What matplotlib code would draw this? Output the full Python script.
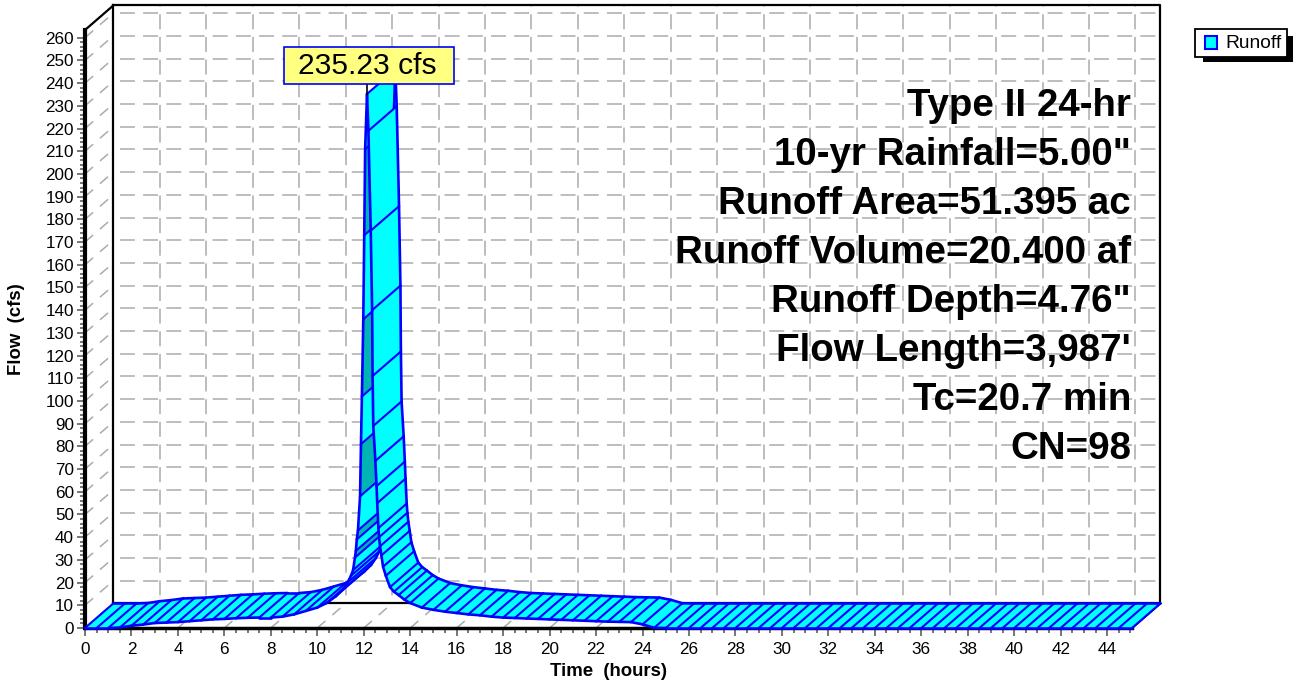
#!/usr/bin/env python

import matplotlib

matplotlib.use('agg')

import matplotlib.pyplot as plt
from matplotlib.patches import Rectangle

plt.rcParams['font.family'] = ['Liberation Sans', 'DejaVu Sans']

W, H = 1294, 684

# one point per cross line on the ribbon
time_hr = [0, 0.5, 1, 1.5, 2, 2.5, 3, 3.5, 4, 4.5, 5, 5.5, 6, 6.5, 7, 7.5, 8, 8.5, 9, 9.5,
           10, 10.4, 10.8, 11.1, 11.3, 11.45, 11.54, 11.62, 11.66, 11.7, 11.75, 11.84,
           11.88, 11.92, 11.98, 12.02, 12.06, 12.14,
           12.2, 12.3, 12.36, 12.38, 12.41, 12.5, 12.55, 12.58, 12.63, 12.66, 12.7, 12.76,
           12.83, 12.95, 13.13, 13.3, 13.5, 13.75, 14, 14.5, 15, 15.5, 16, 16.5, 17, 17.5,
           18, 18.5, 19, 19.5, 20, 20.5, 21, 21.5, 22, 22.5, 23, 23.5, 24, 24.5, 25, 25.5,
           26, 26.5, 27, 27.5, 28, 28.5, 29, 29.5, 30, 30.5, 31, 31.5, 32, 32.5, 33, 33.5,
           34, 34.5, 35, 35.5, 36, 36.5, 37, 37.5, 38, 38.5, 39, 39.5, 40, 40.5, 41, 41.5,
           42, 42.5, 43, 43.5, 44, 44.5, 45.07]
flow_cfs = [0, 0, 0, 0.2, 1, 1.5, 2.2, 2.4, 2.6, 3, 3.4, 3.8, 4, 4.3, 4.5, 4.6, 4.6, 5, 6, 7.5,
            9, 11, 14, 17, 20, 23, 25.5, 31, 34, 39, 43, 58,
            81, 102, 136, 173, 211, 235.23,
            219, 175, 140, 111, 89, 73.6, 62.5, 55, 44, 40, 36, 32,
            27, 23, 18, 16, 14.5, 12.5, 11, 9, 8, 7.2, 6.6, 6, 5.6, 5,
            4.6, 4.4, 4.2, 4, 3.8, 3.6, 3.4, 3.2, 3, 2.8, 2.7, 2.6, 1.6, 0.1, 0, 0,
            0, 0, 0, 0, 0, 0, 0, 0, 0, 0, 0, 0, 0, 0, 0, 0,
            0, 0, 0, 0, 0, 0, 0, 0, 0, 0, 0, 0, 0, 0, 0, 0,
            0, 0, 0, 0, 0, 0, 0]

peak_label = '235.23 cfs'
notes = ['Type II 24-hr', '10-yr Rainfall=5.00"', 'Runoff Area=51.395 ac',
         'Runoff Volume=20.400 af', 'Runoff Depth=4.76"', "Flow Length=3,987'",
         'Tc=20.7 min', 'CN=98']

x_max = 45.07
y_max = 263.4
dx = 1.218   # depth of the fake 3d, in hours
dy = 10.8    # same, in cfs

CYAN = '#00FFFF'
TEAL = '#00B4B4'
BLUE = '#0000FF'
GRID = '#ABABAB'


def fig_xy(x, y):
    return x / W, 1 - y / H


def fig_rect(fig, x0, y0, x1, y1, **kw):
    fx, fy = fig_xy(x0, y1)
    fig.add_artist(Rectangle((fx, fy), (x1 - x0) / W, (y1 - y0) / H,
                             transform=fig.transFigure, **kw))


def draw_walls(ax):
    grid = dict(color=GRID, lw=1.1, clip_on=False, zorder=1)
    # dash lengths are in line widths, 1.53 px here
    h_dash = (10.65, (9.8, 5.38))
    v_dash = (9.8, (9.8, 5.02))
    for f in range(0, 270, 10):
        ax.plot([dx, x_max + dx], [f + dy, f + dy], ls=h_dash, **grid)
        ax.plot([0, dx], [f, f + dy], ls=(0, (7, 6)), **grid)
    for t in range(0, 46, 2):
        ax.plot([t + dx, t + dx], [dy, y_max + dy], ls=v_dash, **grid)
        ax.plot([t, t + dx], [0, dy], ls=(0, (7, 6)), **grid)

    box = dict(color='black', lw=1.6, clip_on=False, zorder=2)
    ax.plot([0, dx], [y_max, y_max + dy], **box)
    ax.plot([dx, x_max + dx, x_max + dx], [y_max + dy, y_max + dy, dy], **box)
    ax.plot([dx, dx], [dy, y_max + dy], **box)
    ax.plot([dx, x_max + dx], [dy, dy], **box)
    ax.plot([x_max, x_max + dx], [0, dy], **box)


def draw_ribbon(ax):
    peak = flow_cfs.index(max(flow_cfs))
    start = time_hr.index(11.54)
    z = 3
    ax.plot([0, dx], [0, dy], color=BLUE, lw=1.5, clip_on=False, zorder=4.5)
    for i in range(len(time_hr) - 1):
        t0, t1 = time_hr[i], time_hr[i + 1]
        f0, f1 = flow_cfs[i], flow_cfs[i + 1]
        colour = CYAN
        if start <= i < peak and (peak - i) % 2 == 0:
            colour = TEAL
        ax.fill([t0, t1, t1 + dx, t0 + dx], [f0, f1, f1 + dy, f0 + dy],
                facecolor=colour, edgecolor=colour, lw=0.3, clip_on=False, zorder=z)
        # lines sit above the next quad, or it would cover half of them
        line = dict(color=BLUE, clip_on=False, zorder=z + 1.5, solid_capstyle='round')
        ax.plot([t0, t1], [f0, f1], lw=1.9, **line)
        ax.plot([t0 + dx, t1 + dx], [f0 + dy, f1 + dy], lw=1.9, **line)
        ax.plot([t1, t1 + dx], [f1, f1 + dy], lw=1.5, **line)
        z += 1
    return z


def main():
    fig = plt.figure(figsize=(W / 100, H / 100), dpi=100)
    ax = fig.add_axes([85 / W, (H - 628) / H, (1132 - 85) / W, (628 - 30) / H])
    ax.set_xlim(0, x_max)
    ax.set_ylim(0, y_max)
    ax.patch.set_visible(False)

    for side in ('top', 'right'):
        ax.spines[side].set_visible(False)
    ax.spines['left'].set_linewidth(3)
    ax.spines['bottom'].set_linewidth(2.5)
    ax.spines['left'].set_zorder(2.5)
    ax.spines['bottom'].set_zorder(2.5)

    ax.set_xticks(range(0, 46, 2))
    ax.set_xticks([t / 2 for t in range(0, 91)], minor=True)
    ax.set_yticks(range(0, 270, 10))
    ax.set_yticks(range(0, 262, 2), minor=True)
    ax.tick_params(which='major', length=6, width=1.2, color='#606060',
                   labelsize=12.3, pad=2)
    ax.tick_params(axis='x', which='major', pad=4)
    ax.tick_params(which='minor', length=3.5, width=1.2, color='#606060')

    draw_walls(ax)
    top = draw_ribbon(ax)

    pk = flow_cfs.index(max(flow_cfs))
    ax.plot([time_hr[pk], time_hr[pk]], [flow_cfs[pk], flow_cfs[pk] + 5], color='black',
            lw=1.2, clip_on=False, zorder=top)

    fig_rect(fig, 284, 47, 454, 84, facecolor='#FFFF80', edgecolor=BLUE, lw=1.2, zorder=5)
    fx, fy = fig_xy(367, 66.5)
    fig.text(fx, fy, peak_label, fontsize=21.6, ha='center', va='center', zorder=6)

    for i, note in enumerate(notes):
        fx, fy = fig_xy(1131, 116 + 49 * i)
        fig.text(fx, fy, note, fontsize=27.7, fontweight='bold', ha='right', va='baseline',
                 zorder=6)

    fx, fy = fig_xy(17, 329)
    fig.text(fx, fy, 'Flow  (cfs)', fontsize=13.4, fontweight='bold', rotation=90,
             ha='center', va='center')
    fx, fy = fig_xy(608, 672)
    fig.text(fx, fy, 'Time  (hours)', fontsize=13.4, fontweight='bold', ha='center',
             va='center')

    fig_rect(fig, 1203, 36, 1293, 62, facecolor='black', edgecolor='none', zorder=5)
    fig_rect(fig, 1195, 29, 1287, 57, facecolor='white', edgecolor='black', lw=1.3, zorder=6)
    fig_rect(fig, 1205, 36, 1217, 49, facecolor=CYAN, edgecolor=BLUE, lw=1.5, zorder=7)
    fx, fy = fig_xy(1225, 43)
    fig.text(fx, fy, 'Runoff', fontsize=13.8, ha='left', va='center', zorder=7)

    fig.savefig('out.png', dpi=100)


if __name__ == '__main__':
    main()
